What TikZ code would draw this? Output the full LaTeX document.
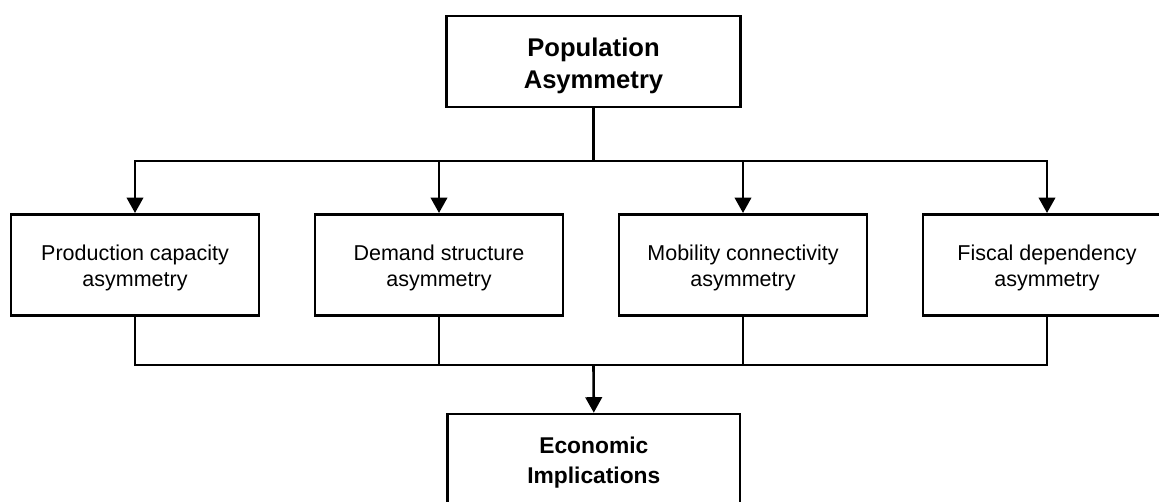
\documentclass[tikz,border=0pt]{standalone}
\usepackage{fontspec}
\setmainfont{Liberation Sans}
\usetikzlibrary{arrows.meta}
\newcommand{\topstrut}{\rule{0pt}{1.05em}}
\begin{document}
\begin{tikzpicture}[x=1pt,y=-1pt,
  box/.style={draw, line width=2.6pt, align=center, inner sep=0pt},
  midbox/.style={box, minimum width=248pt, minimum height=101pt,
    font=\fontsize{21.5}{26}\selectfont},
  conn/.style={line width=2.6pt},
  arr/.style={conn, -{Triangle[width=16.5pt,length=15.5pt]}}]
\useasboundingbox (0,0) rectangle (1159,501);
\node[box, minimum width=293.6pt, minimum height=91pt,
  font=\fontsize{25.6}{32}\selectfont\bfseries] (top) at (593.5,61.5) {\topstrut Population\\Asymmetry};
\node[midbox] (n1) at (135,264.8) {\topstrut Production capacity\\asymmetry};
\node[midbox] (n2) at (439,264.8) {\topstrut Demand structure\\asymmetry};
\node[midbox] (n3) at (743,264.8) {\topstrut Mobility connectivity\\asymmetry};
\node[midbox] (n4) at (1047,264.8) {\topstrut Fiscal dependency\\asymmetry};
\node[box, minimum width=292.3pt, minimum height=97pt,
  font=\fontsize{22.8}{29.7}\selectfont\bfseries] (bot) at (593.8,462.5) {Economic\\Implications};
\coordinate (bt) at (593.5,161);
\coordinate (bb) at (593.5,365);
\draw[conn] (top.south) -- (bt);
\draw[arr] (bt) -| (n1.north);
\draw[arr] (bt) -| (n2.north);
\draw[arr] (bt) -| (n3.north);
\draw[arr] (bt) -| (n4.north);
\draw[conn] (n1.south) |- (bb);
\draw[conn] (n2.south) |- (bb);
\draw[conn] (n3.south) |- (bb);
\draw[conn] (n4.south) |- (bb);
\draw[arr] (bb) -- (bot.north);
\end{tikzpicture}
\end{document}
